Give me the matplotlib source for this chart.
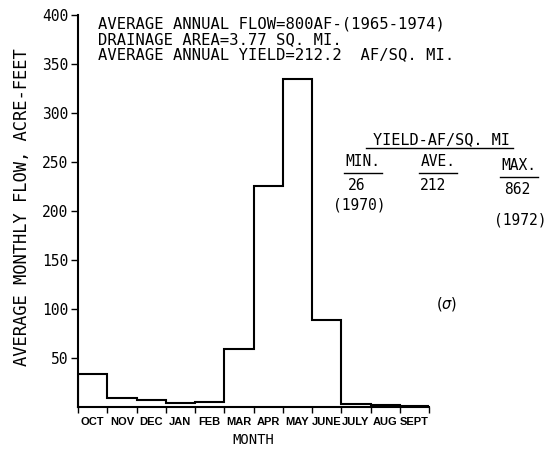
import numpy as np
import matplotlib
matplotlib.use("Agg")
import matplotlib.pyplot as plt

# average monthly flow, acre-feet (water year Oct-Sept)
months = ['OCT', 'NOV', 'DEC', 'JAN', 'FEB', 'MAR', 'APR', 'MAY', 'JUNE', 'JULY', 'AUG', 'SEPT']
flow = [33, 8.6, 6.5, 3.8, 4.8, 59, 225.5, 334, 89, 2.4, 1.5, 0.6]
yticks = [50, 100, 150, 200, 250, 300, 350, 400]

header = ['AVERAGE ANNUAL FLOW=800AF-(1965-1974)',
          'DRAINAGE AREA=3.77 SQ. MI.',
          'AVERAGE ANNUAL YIELD=212.2  AF/SQ. MI.']
yield_cols = ['MIN.', 'AVE.', 'MAX.']
yield_vals = ['26', '212', '862']
yield_years = ['(1970)', '', '(1972)']

mono = ['DejaVu Sans Mono']
narrow = ['Liberation Sans Narrow', 'Liberation Sans', 'DejaVu Sans']

fig = plt.figure(figsize=(5.47, 4.53), dpi=100)
ax = fig.add_axes([0.1426, 0.1020, 0.6417, 0.8655])

edges = np.arange(len(months) + 1)
ax.stairs(flow, edges, baseline=0, color='black', linewidth=1.5)

ax.set_xlim(0, 12)
ax.set_ylim(0, 400)
ax.spines['top'].set_visible(False)
ax.spines['right'].set_visible(False)
ax.spines['left'].set_linewidth(1.5)
ax.spines['bottom'].set_linewidth(1.5)

ax.set_yticks(yticks)
ax.set_yticklabels([str(v) for v in yticks], family=mono, fontsize=10.5)
ax.tick_params(axis='y', direction='out', length=5, width=1, pad=2)

ax.set_xticks(edges)
ax.set_xticklabels([])
ax.tick_params(axis='x', direction='out', length=4, width=1)
ax.set_xticks(edges[:-1] + 0.5, minor=True)
ax.set_xticklabels(months, minor=True, family=narrow, fontsize=8, fontweight='bold')
ax.tick_params(axis='x', which='minor', length=0, pad=7)

ax.set_ylabel('AVERAGE MONTHLY FLOW, ACRE-FEET', family=mono, fontsize=12.3, labelpad=11)
ax.yaxis.set_label_coords(-0.135, 0.51)
ax.set_xlabel('MONTH', family=mono, fontsize=10, labelpad=5)

# header text
for i, line in enumerate(header):
    fig.text(98 / 547, 1 - (24 + 15.5 * i) / 453, line, family=mono, fontsize=11.2,
             va='center', ha='left')

# yield table
def fx(px):
    return px / 547

def fy(py):
    return 1 - py / 453

fig.text(fx(441), fy(140), 'YIELD-AF/SQ. MI', family=mono, fontsize=11, ha='center', va='center')
fig.add_artist(plt.Line2D([fx(366), fx(513)], [fy(148), fy(148)], color='black', lw=1))

col_x = [363, 438, 519]
col_dy = [0, 0, 4]
val_x = [357, 433, 517]
year_x = [359, None, 520]
year_y = [205, None, 220]
for i, name in enumerate(yield_cols):
    x = col_x[i]
    d = col_dy[i]
    fig.text(fx(x), fy(162 + d), name, family=mono, fontsize=10.5, ha='center', va='center')
    fig.add_artist(plt.Line2D([fx(x - 19), fx(x + 19)], [fy(173 + d), fy(173 + d)],
                              color='black', lw=1))
    fig.text(fx(val_x[i]), fy(186 + d), yield_vals[i],
             family=mono, fontsize=10.5, ha='center', va='center')
    if yield_years[i]:
        fig.text(fx(year_x[i]), fy(year_y[i]), yield_years[i],
                 family=mono, fontsize=10.5, ha='center', va='center')

fig.text(fx(447), fy(304), r'($\sigma$)', fontsize=10.5, ha='center', va='center')

fig.savefig('out.png', dpi=100)
